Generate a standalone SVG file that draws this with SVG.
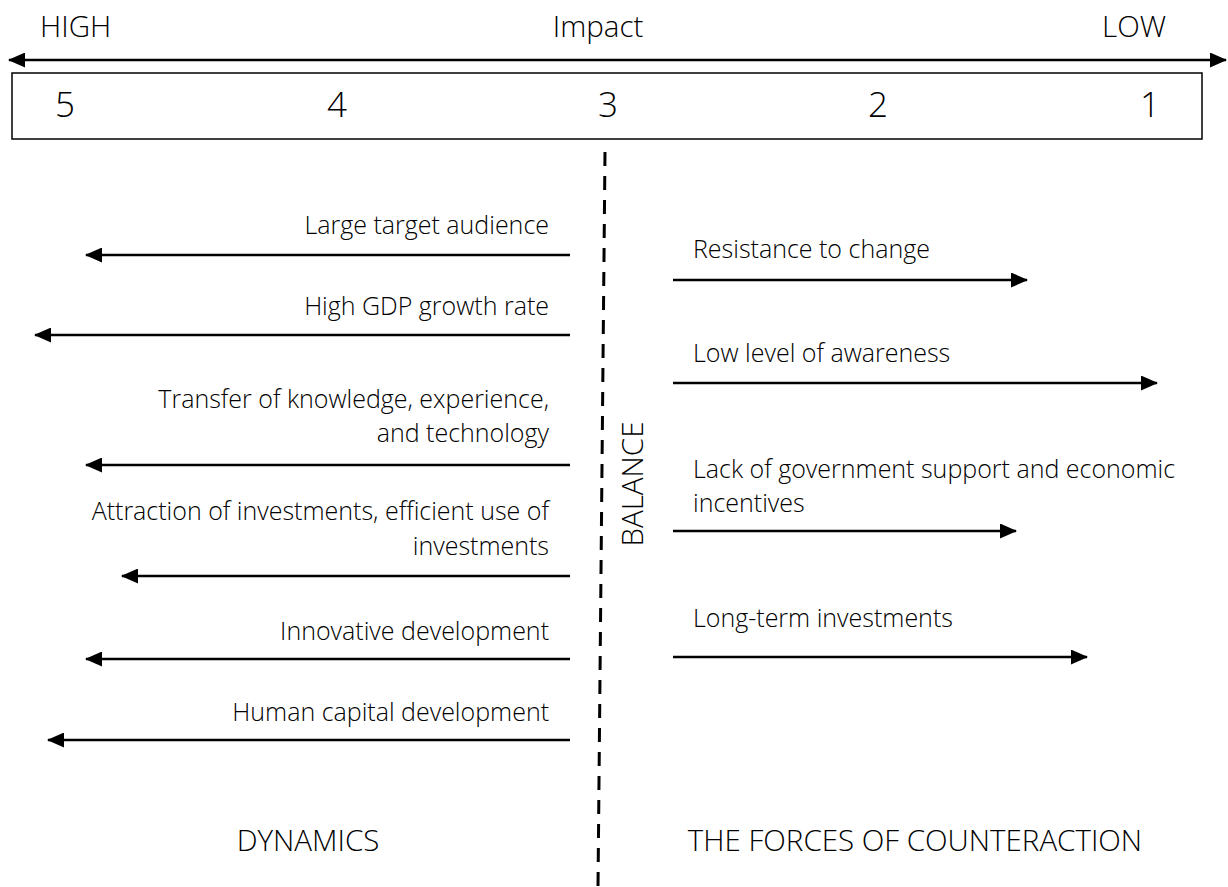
<svg xmlns="http://www.w3.org/2000/svg" width="1228" height="887" viewBox="0 0 1228 887">
<style>
.t{font-family:"Open Sans","Liberation Sans",sans-serif;font-weight:300;fill:#000}
.lbl{font-size:25px}
.hdr{font-size:29.5px}
.bal{font-size:29.5px}
.num{font-size:35px;font-weight:300}
.ln{stroke:#000;stroke-width:2.7;fill:none}
</style>
<defs>
<marker id="ah" viewBox="0 0 17 15" refX="16" refY="7.5" markerWidth="17" markerHeight="15" markerUnits="userSpaceOnUse" orient="auto-start-reverse">
<path d="M0,0 L17,7.5 L0,15 Z" fill="#000"/>
</marker>
</defs>
<rect width="1228" height="887" fill="#fff"/>
<g id="scale">
<text class="t hdr" x="40" y="37">HIGH</text>
<text class="t hdr" x="598" y="37" text-anchor="middle">Impact</text>
<text class="t hdr" x="1166" y="37" text-anchor="end">LOW</text>
<line class="ln" x1="9" y1="60" x2="1226" y2="60" marker-start="url(#ah)" marker-end="url(#ah)"/>
<rect x="12" y="73" width="1190" height="66" fill="none" stroke="#000" stroke-width="1.5"/>
<text class="t num" x="65" y="117" text-anchor="middle">5</text>
<text class="t num" x="337" y="117" text-anchor="middle">4</text>
<text class="t num" x="608" y="117" text-anchor="middle">3</text>
<text class="t num" x="878" y="117" text-anchor="middle">2</text>
<text class="t num" x="1150" y="117" text-anchor="middle">1</text>
</g>
<g id="balance">
<line x1="605" y1="152" x2="598" y2="887" stroke="#000" stroke-width="3" stroke-dasharray="14,10"/>
<text class="t bal" transform="translate(643,484) rotate(-90)" text-anchor="middle">BALANCE</text>
</g>
<g id="connectors">
<line class="ln" x1="570" y1="255" x2="86" y2="255" marker-end="url(#ah)"/>
<line class="ln" x1="570" y1="335" x2="35" y2="335" marker-end="url(#ah)"/>
<line class="ln" x1="570" y1="465" x2="86" y2="465" marker-end="url(#ah)"/>
<line class="ln" x1="570" y1="576" x2="122" y2="576" marker-end="url(#ah)"/>
<line class="ln" x1="570" y1="659" x2="86" y2="659" marker-end="url(#ah)"/>
<line class="ln" x1="570" y1="740" x2="48" y2="740" marker-end="url(#ah)"/>
<line class="ln" x1="673" y1="280" x2="1027" y2="280" marker-end="url(#ah)"/>
<line class="ln" x1="673" y1="383" x2="1157" y2="383" marker-end="url(#ah)"/>
<line class="ln" x1="673" y1="531" x2="1016" y2="531" marker-end="url(#ah)"/>
<line class="ln" x1="673" y1="657" x2="1087" y2="657" marker-end="url(#ah)"/>
</g>
<g id="dyn1"><text class="t lbl" x="549" y="234" text-anchor="end">Large target audience</text></g>
<g id="dyn2"><text class="t lbl" x="549" y="315" text-anchor="end">High GDP growth rate</text></g>
<g id="dyn3"><text class="t lbl" x="549" y="408" text-anchor="end">Transfer of knowledge, experience,</text><text class="t lbl" x="549" y="442" text-anchor="end">and technology</text></g>
<g id="dyn4"><text class="t lbl" x="549" y="520" text-anchor="end">Attraction of investments, efficient use of</text><text class="t lbl" x="549" y="555" text-anchor="end">investments</text></g>
<g id="dyn5"><text class="t lbl" x="549" y="640" text-anchor="end">Innovative development</text></g>
<g id="dyn6"><text class="t lbl" x="549" y="721" text-anchor="end">Human capital development</text></g>
<g id="cnt1"><text class="t lbl" x="693" y="258">Resistance to change</text></g>
<g id="cnt2"><text class="t lbl" x="693" y="362">Low level of awareness</text></g>
<g id="cnt3"><text class="t lbl" x="693" y="478">Lack of government support and economic</text><text class="t lbl" x="693" y="512">incentives</text></g>
<g id="cnt4"><text class="t lbl" x="693" y="627">Long-term investments</text></g>
<g id="titles">
<text class="t hdr" x="308" y="851" text-anchor="middle">DYNAMICS</text>
<text class="t hdr" x="915" y="851" text-anchor="middle">THE FORCES OF COUNTERACTION</text>
</g>
</svg>
